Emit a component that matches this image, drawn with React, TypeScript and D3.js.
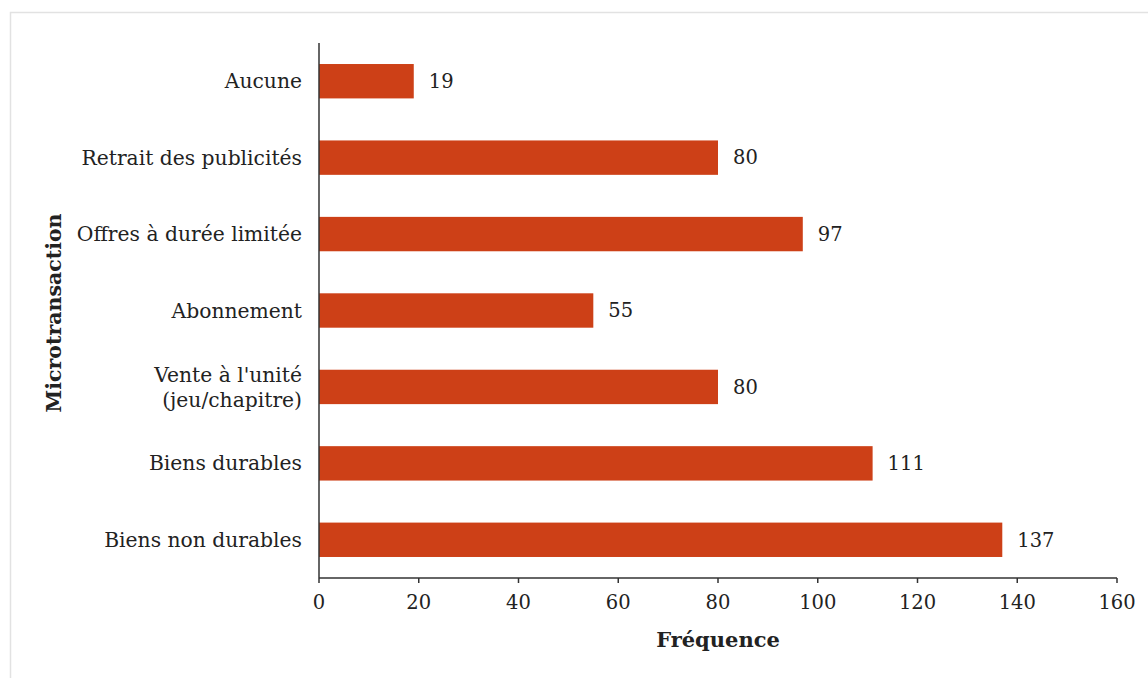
import React from "react";
import * as d3 from "d3";

const categories = [
  "Aucune",
  "Retrait des publicités",
  "Offres à durée limitée",
  "Abonnement",
  "Vente à l'unité\n(jeu/chapitre)",
  "Biens durables",
  "Biens non durables",
];
const values = [19, 80, 97, 55, 80, 111, 137];
const xTicks = [0, 20, 40, 60, 80, 100, 120, 140, 160];

const W = 1148;
const H = 678;
const FONT = "'DejaVu Serif', serif";

export default function App() {
  const x = d3.scaleLinear().domain([0, 160]).range([319, 1117]);
  const y = d3
    .scaleBand<string>()
    .domain(categories)
    .range([43, 578])
    .paddingInner(0.55)
    .paddingOuter(0.275);
  const color = "#CD4017";
  return (
    <svg width={W} height={H} style={{ position: "absolute", left: 0, top: 0 }}>
      <rect x={10.5} y={12.5} width={W} height={H} fill="#fff" stroke="#e2e2e2" strokeWidth={1.5} />
      {categories.map((c, i) => {
        const yy = y(c)!;
        const bw = y.bandwidth();
        const lines = c.split("\n");
        const cy = yy + bw / 2;
        return (
          <g key={c}>
            <rect x={x(0)} y={yy} width={x(values[i]) - x(0)} height={bw} fill={color} />
            <text
              x={x(values[i]) + 15}
              y={cy}
              dy="0.35em"
              fontFamily={FONT}
              fontSize={19.5}
              fill="#222"
            >
              {values[i]}
            </text>
            {lines.map((l, j) => (
              <text
                key={j}
                x={302}
                y={cy + (j - (lines.length - 1) / 2) * 25}
                dy="0.35em"
                textAnchor="end"
                fontFamily={FONT}
                fontSize={20.3}
                fill="#222"
              >
                {l}
              </text>
            ))}
          </g>
        );
      })}
      <line x1={319} x2={319} y1={43} y2={578} stroke="#333" strokeWidth={1.5} />
      <line x1={319} x2={1117} y1={578} y2={578} stroke="#333" strokeWidth={1.5} />
      {xTicks.map((t) => (
        <g key={t}>
          <line x1={x(t)} x2={x(t)} y1={578} y2={583} stroke="#333" strokeWidth={1.5} />
          <text
            x={x(t)}
            y={602}
            dy="0.35em"
            textAnchor="middle"
            fontFamily={FONT}
            fontSize={19.5}
            fill="#222"
          >
            {t}
          </text>
        </g>
      ))}
      <text
        x={(x(0) + x(160)) / 2}
        y={640}
        dy="0.35em"
        textAnchor="middle"
        fontFamily={FONT}
        fontSize={21}
        fontWeight="bold"
        fill="#222"
      >
        Fréquence
      </text>
      <text
        transform={`translate(54,313) rotate(-90)`}
        dy="0.35em"
        textAnchor="middle"
        fontFamily={FONT}
        fontSize={20.5}
        fontWeight="bold"
        fill="#222"
      >
        Microtransaction
      </text>
    </svg>
  );
}
